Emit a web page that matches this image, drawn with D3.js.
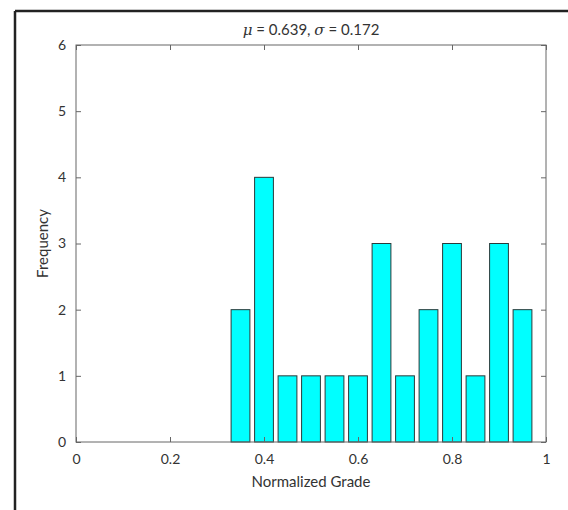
<!DOCTYPE html>
<html>
<head>
<meta charset="utf-8">
<script src="https://cdn.jsdelivr.net/npm/d3@7"></script>
<style>
  body { margin: 0; background: #fff; }
  svg text { font-family: Lato, "Open Sans", sans-serif; fill: #333; }
</style>
</head>
<body>
<div id="chart"></div>
<script>
// histogram of normalized grades, 13 bins of width 0.05
var binCenters = [0.35, 0.40, 0.45, 0.50, 0.55, 0.60, 0.65, 0.70, 0.75, 0.80, 0.85, 0.90, 0.95];
var counts = [2, 4, 1, 1, 1, 1, 3, 1, 2, 3, 1, 3, 2];
var xTicks = [0, 0.2, 0.4, 0.6, 0.8, 1];
var yTicks = [0, 1, 2, 3, 4, 5, 6];
var binWidth = 0.05;

var margin = { top: 45, right: 22, bottom: 68, left: 76 };
var W = 568, H = 510;
var width = W - margin.left - margin.right;   // 470
var height = H - margin.top - margin.bottom;  // 397

var svg = d3.select("#chart").append("svg")
    .attr("width", W)
    .attr("height", H);

// dark frame on the left and top (screenshot crop)
svg.append("line").attr("x1", 15).attr("x2", W).attr("y1", 11).attr("y2", 11)
    .attr("stroke", "#222").attr("stroke-width", 2.5);
svg.append("line").attr("x1", 15).attr("x2", 15).attr("y1", 11).attr("y2", H)
    .attr("stroke", "#222").attr("stroke-width", 2.5);

var g = svg.append("g")
    .attr("transform", "translate(" + margin.left + "," + margin.top + ")");

var x = d3.scaleLinear().domain([0, 1]).range([0, width]);
var y = d3.scaleLinear().domain([0, 6]).range([height, 0]);

var data = binCenters.map(function (c, i) { return { c: c, n: counts[i] }; });

// bars
g.selectAll("rect.bar")
    .data(data)
    .enter().append("rect")
    .attr("class", "bar")
    .attr("x", function (d) { return x(d.c - binWidth * 0.4); })
    .attr("width", function (d) { return x(binWidth * 0.8) - x(0); })
    .attr("y", function (d) { return y(d.n); })
    .attr("height", function (d) { return y(0) - y(d.n); })
    .attr("fill", "#00ffff")
    .attr("stroke", "#2a3a3a")
    .attr("stroke-width", 1);

// axes, matlab style: box with inward ticks
var axisColor = "#666";
function styleAxis(sel, showLabels) {
    sel.select(".domain").remove();
    sel.selectAll(".tick line").attr("stroke", axisColor);
    sel.selectAll(".tick text")
        .style("font-size", "14px")
        .style("display", showLabels ? null : "none");
}

g.append("g")
    .attr("transform", "translate(0," + height + ")")
    .call(d3.axisBottom(x).tickValues(xTicks).tickSize(-5).tickPadding(12)
        .tickFormat(function (d) { return d; }))
    .call(styleAxis, true);

g.append("g")
    .call(d3.axisTop(x).tickValues(xTicks).tickSize(-5).tickFormat(""))
    .call(styleAxis, false);

g.append("g")
    .call(d3.axisLeft(y).tickValues(yTicks).tickSize(-5).tickPadding(10)
        .tickFormat(d3.format("d")))
    .call(styleAxis, true);

g.append("g")
    .attr("transform", "translate(" + width + ",0)")
    .call(d3.axisRight(y).tickValues(yTicks).tickSize(-5).tickFormat(""))
    .call(styleAxis, false);

g.append("rect")
    .attr("width", width)
    .attr("height", height)
    .attr("fill", "none")
    .attr("stroke", axisColor)
    .attr("stroke-width", 1);

// title
var title = svg.append("text")
    .attr("x", margin.left + width / 2)
    .attr("y", 35)
    .attr("text-anchor", "middle")
    .style("font-size", "15px");
title.append("tspan").style("font-style", "italic").style("font-family", "'DejaVu Serif', serif").text("\u03bc");
title.append("tspan").text(" = 0.639, ");
title.append("tspan").style("font-style", "italic").style("font-family", "'DejaVu Serif', serif").text("\u03c3");
title.append("tspan").text(" = 0.172");

// axis labels
svg.append("text")
    .attr("x", margin.left + width / 2)
    .attr("y", 487)
    .attr("text-anchor", "middle")
    .style("font-size", "15px")
    .text("Normalized Grade");

svg.append("text")
    .attr("transform", "translate(48," + (margin.top + height / 2) + ") rotate(-90)")
    .attr("text-anchor", "middle")
    .style("font-size", "15px")
    .text("Frequency");
</script>
</body>
</html>
